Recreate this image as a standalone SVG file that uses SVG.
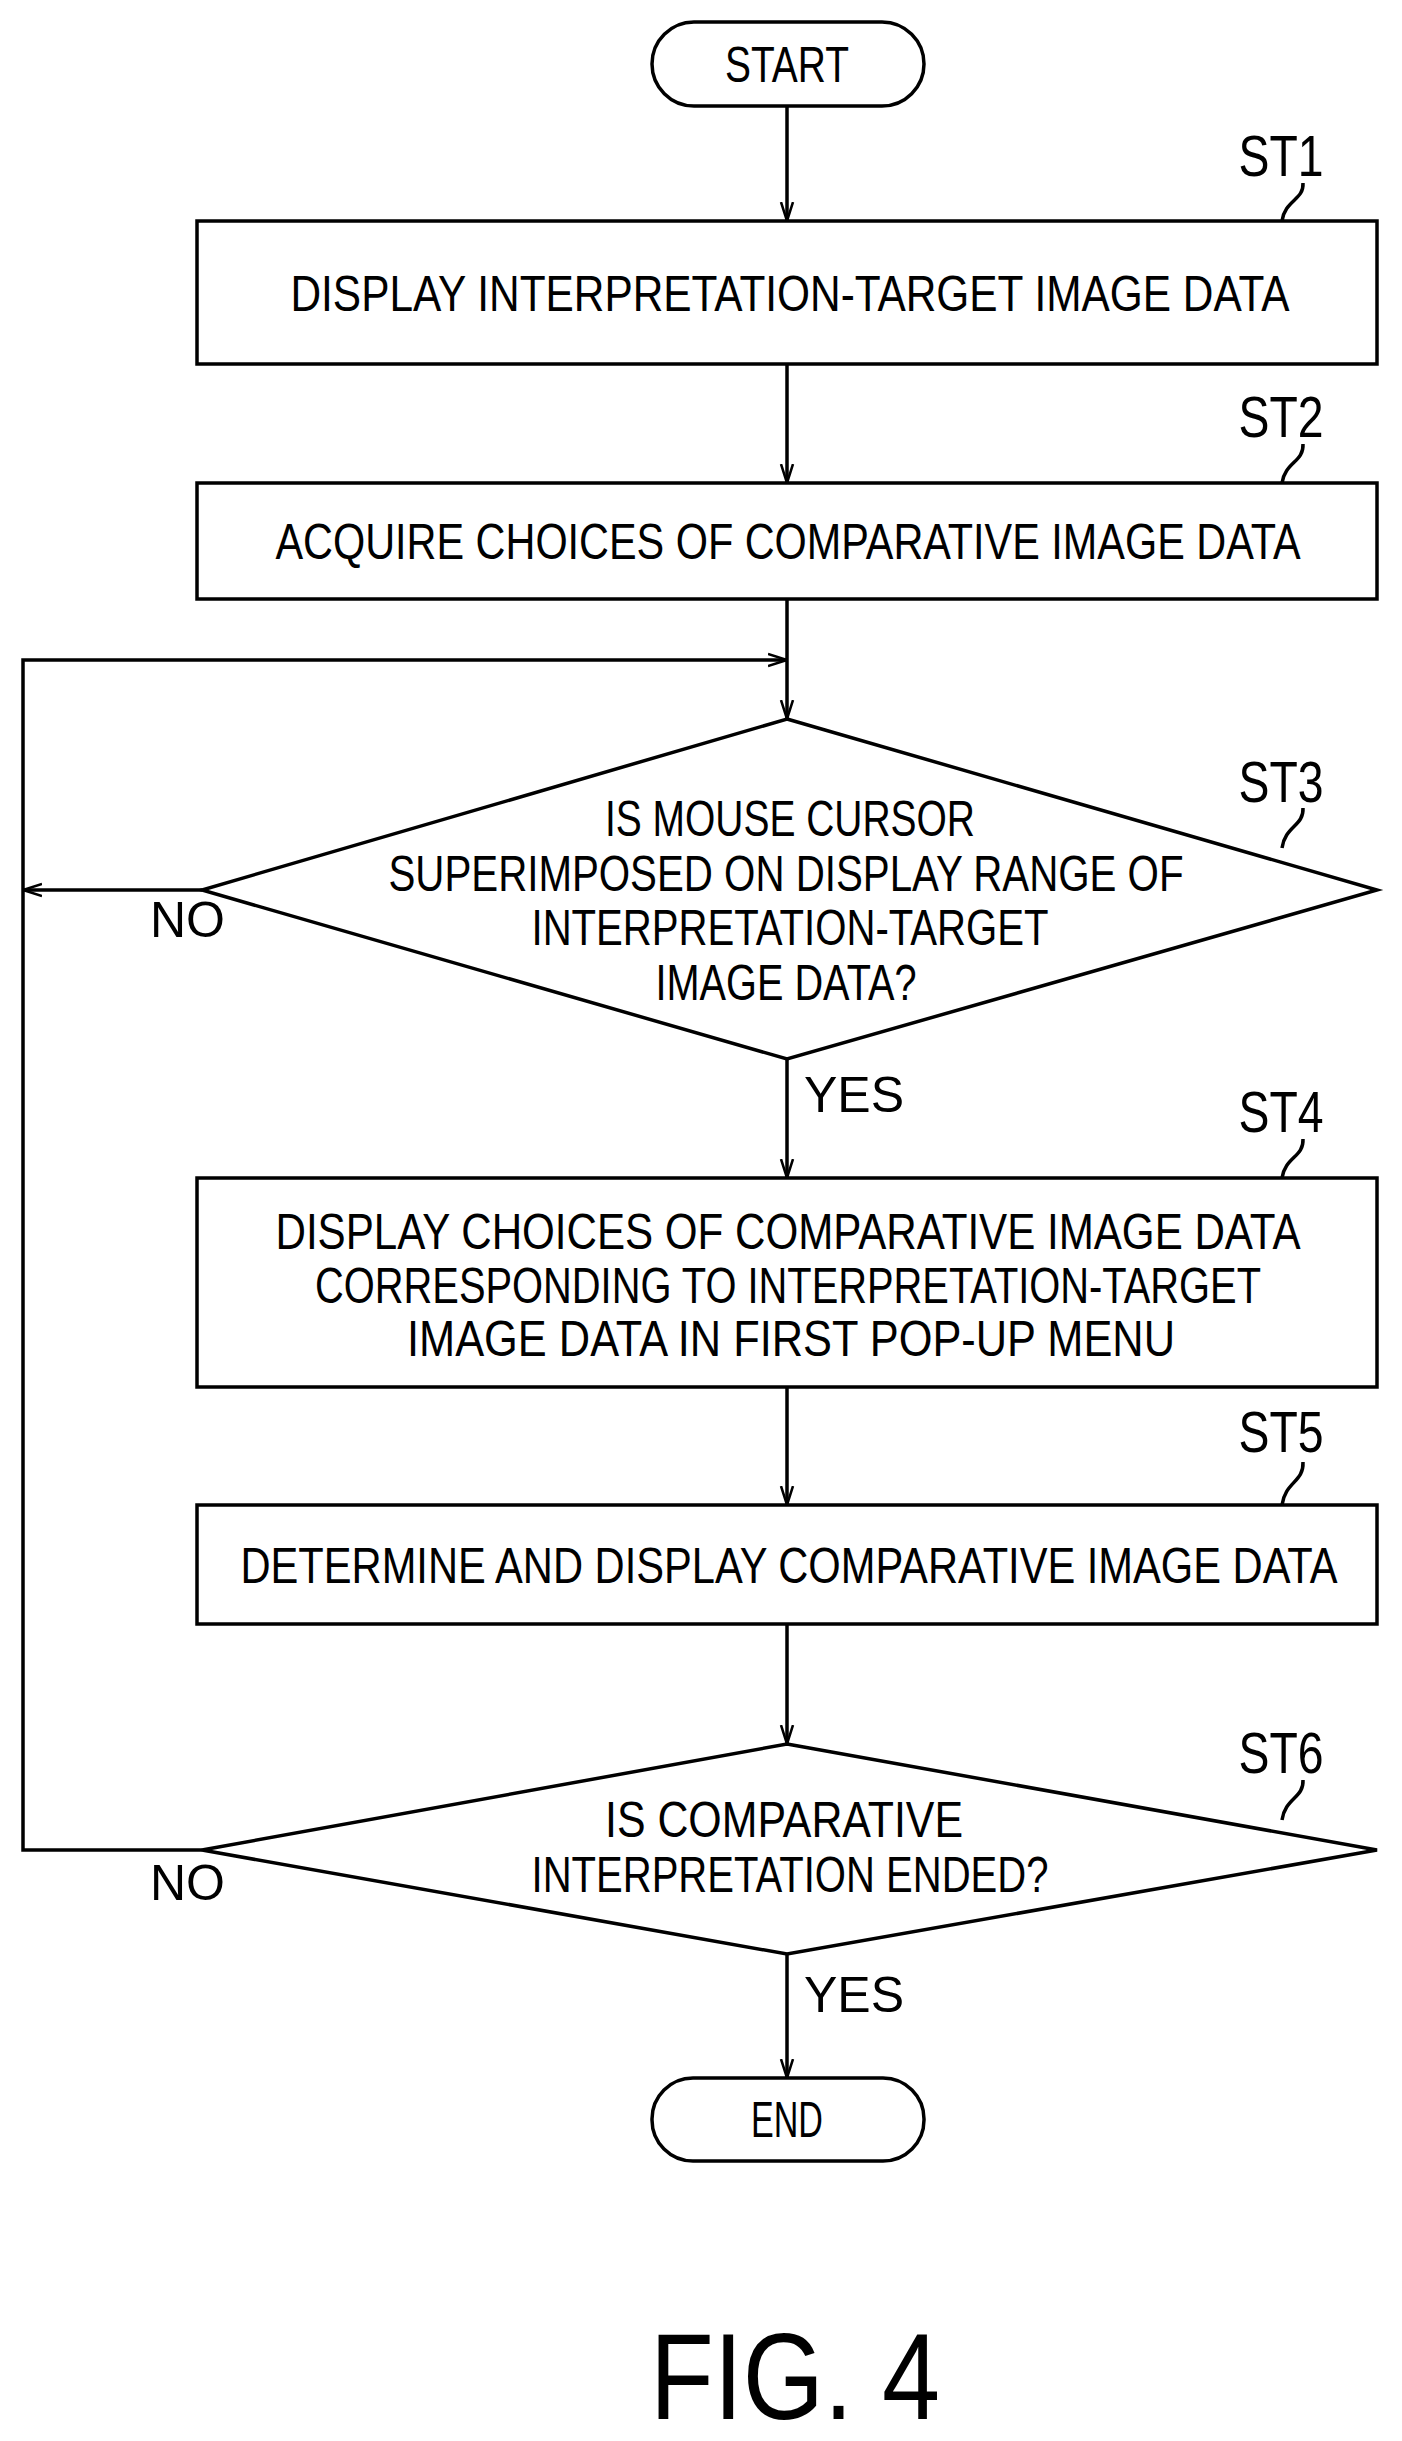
<svg xmlns="http://www.w3.org/2000/svg" width="1402" height="2441" viewBox="0 0 1402 2441">
<style>
.s{fill:none;stroke:#000;stroke-width:3.5}
.n{fill:#fff;stroke:#000;stroke-width:3.5}
text{font-family:"Liberation Sans",Arial,sans-serif;font-size:50px;fill:#000;text-anchor:middle}
.lb{font-size:58px}
.sm{text-anchor:start}
</style>
<defs>
<marker id="a" viewBox="0 0 20 20" refX="19" refY="10" markerWidth="20" markerHeight="20" markerUnits="userSpaceOnUse" orient="auto">
<polyline points="0,4 19,10 0,16" fill="none" stroke="#000" stroke-width="2.5"/>
</marker>
</defs>
<rect width="1402" height="2441" fill="#fff"/>
<g id="connectors">
<line class="s" x1="787" y1="106" x2="787" y2="221" marker-end="url(#a)"/>
<line class="s" x1="787" y1="364" x2="787" y2="483" marker-end="url(#a)"/>
<line class="s" x1="787" y1="599" x2="787" y2="719" marker-end="url(#a)"/>
<line class="s" x1="202" y1="890" x2="23" y2="890" marker-end="url(#a)"/>
<line class="s" x1="787" y1="1059" x2="787" y2="1178" marker-end="url(#a)"/>
<line class="s" x1="787" y1="1387" x2="787" y2="1505" marker-end="url(#a)"/>
<line class="s" x1="787" y1="1624" x2="787" y2="1744" marker-end="url(#a)"/>
<polyline class="s" points="202,1850 23,1850 23,660 787,660" marker-end="url(#a)"/>
<line class="s" x1="787" y1="1954" x2="787" y2="2078" marker-end="url(#a)"/>
<text class="sm" x="150" y="937">NO</text>
<text class="sm" x="150" y="1900">NO</text>
<text class="sm" x="804" y="1112">YES</text>
<text class="sm" x="804" y="2012">YES</text>
</g>
<g id="start"><rect class="n" x="652" y="22" width="272" height="84" rx="42"/><text x="787" y="82" textLength="124" lengthAdjust="spacingAndGlyphs">START</text></g>
<g id="st1"><rect class="n" x="197" y="221" width="1180" height="143"/><text x="790" y="311" textLength="999" lengthAdjust="spacingAndGlyphs">DISPLAY INTERPRETATION-TARGET IMAGE DATA</text>
<text class="lb" x="1281" y="176" textLength="85" lengthAdjust="spacingAndGlyphs">ST1</text><path class="s" d="M1303 183 C1304 200 1285 200 1282 221" stroke-width="2"/></g>
<g id="st2"><rect class="n" x="197" y="483" width="1180" height="116"/><text x="788" y="559" textLength="1025" lengthAdjust="spacingAndGlyphs">ACQUIRE CHOICES OF COMPARATIVE IMAGE DATA</text>
<text class="lb" x="1281" y="437" textLength="85" lengthAdjust="spacingAndGlyphs">ST2</text><path class="s" d="M1303 444 C1304 462 1285 462 1282 483" stroke-width="2"/></g>
<g id="st3"><polygon class="n" points="787,719 1377,890 787,1059 202,890"/>
<text x="790" y="836" textLength="370" lengthAdjust="spacingAndGlyphs">IS MOUSE CURSOR</text>
<text x="786" y="891" textLength="795" lengthAdjust="spacingAndGlyphs">SUPERIMPOSED ON DISPLAY RANGE OF</text>
<text x="790" y="945" textLength="517" lengthAdjust="spacingAndGlyphs">INTERPRETATION-TARGET</text>
<text x="786" y="1000" textLength="261" lengthAdjust="spacingAndGlyphs">IMAGE DATA?</text>
<text class="lb" x="1281" y="802" textLength="85" lengthAdjust="spacingAndGlyphs">ST3</text><path class="s" d="M1303 808 C1304 826 1285 826 1282 848" stroke-width="2"/></g>
<g id="st4"><rect class="n" x="197" y="1178" width="1180" height="209"/>
<text x="788" y="1249" textLength="1025" lengthAdjust="spacingAndGlyphs">DISPLAY CHOICES OF COMPARATIVE IMAGE DATA</text>
<text x="788" y="1303" textLength="946" lengthAdjust="spacingAndGlyphs">CORRESPONDING TO INTERPRETATION-TARGET</text>
<text x="791" y="1356" textLength="768" lengthAdjust="spacingAndGlyphs">IMAGE DATA IN FIRST POP-UP MENU</text>
<text class="lb" x="1281" y="1132" textLength="85" lengthAdjust="spacingAndGlyphs">ST4</text><path class="s" d="M1303 1139 C1304 1157 1285 1157 1282 1178" stroke-width="2"/></g>
<g id="st5"><rect class="n" x="197" y="1505" width="1180" height="119"/>
<text x="789" y="1583" textLength="1097" lengthAdjust="spacingAndGlyphs">DETERMINE AND DISPLAY COMPARATIVE IMAGE DATA</text>
<text class="lb" x="1281" y="1452" textLength="85" lengthAdjust="spacingAndGlyphs">ST5</text><path class="s" d="M1303 1462 C1304 1482 1285 1482 1282 1505" stroke-width="2"/></g>
<g id="st6"><polygon class="n" points="787,1744 1377,1850 787,1954 202,1850"/>
<text x="784" y="1837" textLength="358" lengthAdjust="spacingAndGlyphs">IS COMPARATIVE</text>
<text x="790" y="1892" textLength="517" lengthAdjust="spacingAndGlyphs">INTERPRETATION ENDED?</text>
<text class="lb" x="1281" y="1773" textLength="85" lengthAdjust="spacingAndGlyphs">ST6</text><path class="s" d="M1303 1780 C1304 1798 1285 1798 1282 1820" stroke-width="2"/></g>
<g id="end"><rect class="n" x="652" y="2078" width="272" height="83" rx="41"/><text x="787" y="2137" textLength="72" lengthAdjust="spacingAndGlyphs">END</text></g>
<text x="795" y="2419" style="font-size:122px" textLength="290" lengthAdjust="spacingAndGlyphs">FIG. 4</text>
</svg>
